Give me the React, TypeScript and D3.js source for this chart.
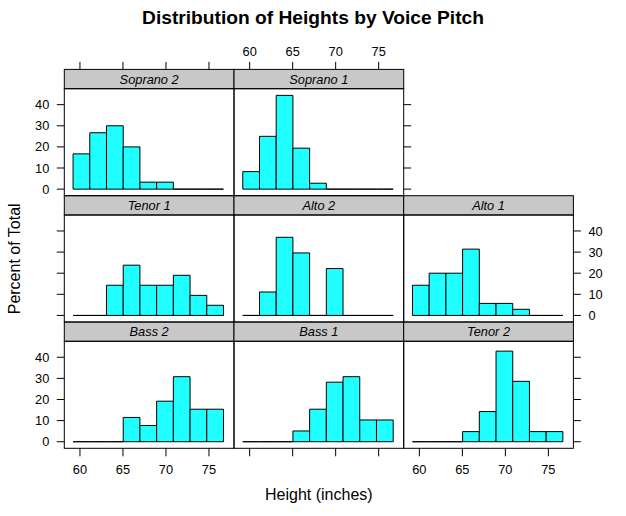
import React from "react";
import * as d3 from "d3";

// Panel order as lattice draws them (bottom-left first, row by row upward)
const panelNames = ["Bass 2", "Bass 1", "Tenor 2", "Tenor 1", "Alto 2", "Alto 1", "Soprano 2", "Soprano 1"];

// Histogram bins (inches)
const binStart = 59.2;
const binWidth = 1.943;

// Percent of total in each of the 9 bins
const bass2 = [0, 0, 0, 11.5, 7.7, 19.2, 30.8, 15.4, 15.4];
const bass1 = [0, 0, 0, 5.1, 15.4, 28.2, 30.8, 10.3, 10.3];
const tenor2 = [0, 0, 0, 4.8, 14.3, 42.9, 28.6, 4.8, 4.8];
const tenor1 = [0, 0, 14.3, 23.8, 14.3, 14.3, 19.0, 9.5, 4.8];
const alto2 = [0, 11.1, 37.0, 29.6, 0, 22.2, 0, 0, 0];
const alto1 = [14.3, 20.0, 20.0, 31.4, 5.7, 5.7, 2.9, 0, 0];
const soprano2 = [16.7, 26.7, 30.0, 20.0, 3.3, 3.3, 0, 0, 0];
const soprano1 = [8.3, 25.0, 44.4, 19.4, 2.8, 0, 0, 0, 0];

const panelValues = [bass2, bass1, tenor2, tenor1, alto2, alto1, soprano2, soprano1];

const xTicks = [60, 65, 70, 75];
const yTicks = [0, 10, 20, 30, 40];

const xDomain: [number, number] = [58.18, 77.91];
const yDomain: [number, number] = [-3.11, 47.56];

const W = 626;
const H = 516;
const colLeft0 = 64.3;
const colW = 169.7;
const rowTop0 = 69.4;
const rowPitch = 126.3;
const stripH = 19.3;
const panelH = 107.0;

const font = "'Liberation Sans', Arial, Helvetica, sans-serif";
const tickFs = 12.8;

function App() {
  const nRows = 3;
  const cells = panelValues.map((vals, i) => {
    const col = i % 3;
    const rowFromBottom = Math.floor(i / 3);
    const row = nRows - 1 - rowFromBottom;
    const x0 = colLeft0 + col * colW;
    const top = rowTop0 + row * rowPitch;
    const pTop = top + stripH;
    const pBot = pTop + panelH;
    const x = d3.scaleLinear().domain(xDomain).range([x0, x0 + colW]);
    const y = d3.scaleLinear().domain(yDomain).range([pBot, pTop]);
    return { name: panelNames[i], vals, col, row, x0, top, pTop, pBot, x, y };
  });

  const elems: React.ReactNode[] = [];

  cells.forEach((c, i) => {
    // panel background & strip
    elems.push(
      <g key={"p" + i}>
        <rect x={c.x0} y={c.top} width={colW} height={stripH} fill="#c8c8c8" stroke="#000" strokeWidth={1} />
        <text x={c.x0 + colW / 2} y={c.top + stripH / 2 + 4.5} textAnchor="middle" fontStyle="italic" fontSize={tickFs} fontFamily={font}>
          {c.name}
        </text>
        {c.vals.map((v, b) => {
          const xa = c.x(binStart + b * binWidth);
          const xb = c.x(binStart + (b + 1) * binWidth);
          const y0 = c.y(0);
          const y1 = c.y(v);
          return (
            <path
              key={b}
              d={`M${xa},${y0}V${y1}H${xb}V${y0}Z`}
              fill="#1fffff"
              stroke="#000"
              strokeWidth={1}
            />
          );
        })}
        <rect x={c.x0} y={c.pTop} width={colW} height={panelH} fill="none" stroke="#000" strokeWidth={1} />
      </g>
    );
  });

  // axes
  const axisEls: React.ReactNode[] = [];
  // Left axis for each row (col 0)
  cells.filter((c) => c.col === 0).forEach((c) => {
    yTicks.forEach((t) => {
      const yy = c.y(t);
      axisEls.push(<line key={`l${c.row}-${t}`} x1={c.x0} x2={c.x0 - 7.5} y1={yy} y2={yy} stroke="#000" />);
      if (c.row !== 1) {
        axisEls.push(
          <text key={`lt${c.row}-${t}`} x={c.x0 - 15} y={yy + 4.6} textAnchor="end" fontSize={tickFs} fontFamily={font}>
            {t}
          </text>
        );
      }
    });
  });
  // Right axis: last panel in each row
  [0, 1, 2].forEach((row) => {
    const inRow = cells.filter((c) => c.row === row);
    const c = inRow.reduce((a, b) => (b.col > a.col ? b : a));
    const xr = c.x0 + colW;
    yTicks.forEach((t) => {
      const yy = c.y(t);
      axisEls.push(<line key={`r${row}-${t}`} x1={xr} x2={xr + 7.5} y1={yy} y2={yy} stroke="#000" />);
      if (row === 1) {
        axisEls.push(
          <text key={`rt${row}-${t}`} x={xr + 15} y={yy + 4.6} textAnchor="start" fontSize={tickFs} fontFamily={font}>
            {t}
          </text>
        );
      }
    });
  });
  // Bottom axis: bottom row
  cells.filter((c) => c.row === 2).forEach((c) => {
    xTicks.forEach((t) => {
      const xx = c.x(t);
      axisEls.push(<line key={`b${c.col}-${t}`} x1={xx} x2={xx} y1={c.pBot} y2={c.pBot + 8} stroke="#000" />);
      if (c.col !== 1) {
        axisEls.push(
          <text key={`bt${c.col}-${t}`} x={xx} y={c.pBot + 25.3} textAnchor="middle" fontSize={tickFs} fontFamily={font}>
            {t}
          </text>
        );
      }
    });
  });
  // Top axis: top row
  cells.filter((c) => c.row === 0).forEach((c) => {
    xTicks.forEach((t) => {
      const xx = c.x(t);
      axisEls.push(<line key={`t${c.col}-${t}`} x1={xx} x2={xx} y1={c.top} y2={c.top - 7.5} stroke="#000" />);
      if (c.col === 1) {
        axisEls.push(
          <text key={`tt${c.col}-${t}`} x={xx} y={c.top - 13.5} textAnchor="middle" fontSize={tickFs} fontFamily={font}>
            {t}
          </text>
        );
      }
    });
  });

  const panelsMidX = colLeft0 + (3 * colW) / 2;
  const panelsMidY = (rowTop0 + rowTop0 + 2 * rowPitch + stripH + panelH) / 2;

  return (
    <svg width={W} height={H} style={{ display: "block", position: "absolute", left: 0, top: 0 }}>
      <rect x={0} y={0} width={W} height={H} fill="#fff" />
      <text x={313} y={24} textAnchor="middle" fontWeight="bold" fontSize={19.2} fontFamily={font}>
        Distribution of Heights by Voice Pitch
      </text>
      {elems}
      {axisEls}
      <text x={panelsMidX} y={500} textAnchor="middle" fontSize={16} fontFamily={font}>
        Height (inches)
      </text>
      <text
        transform={`translate(20,${panelsMidY}) rotate(-90)`}
        textAnchor="middle"
        fontSize={16}
        fontFamily={font}
      >
        Percent of Total
      </text>
    </svg>
  );
}

export default App;
